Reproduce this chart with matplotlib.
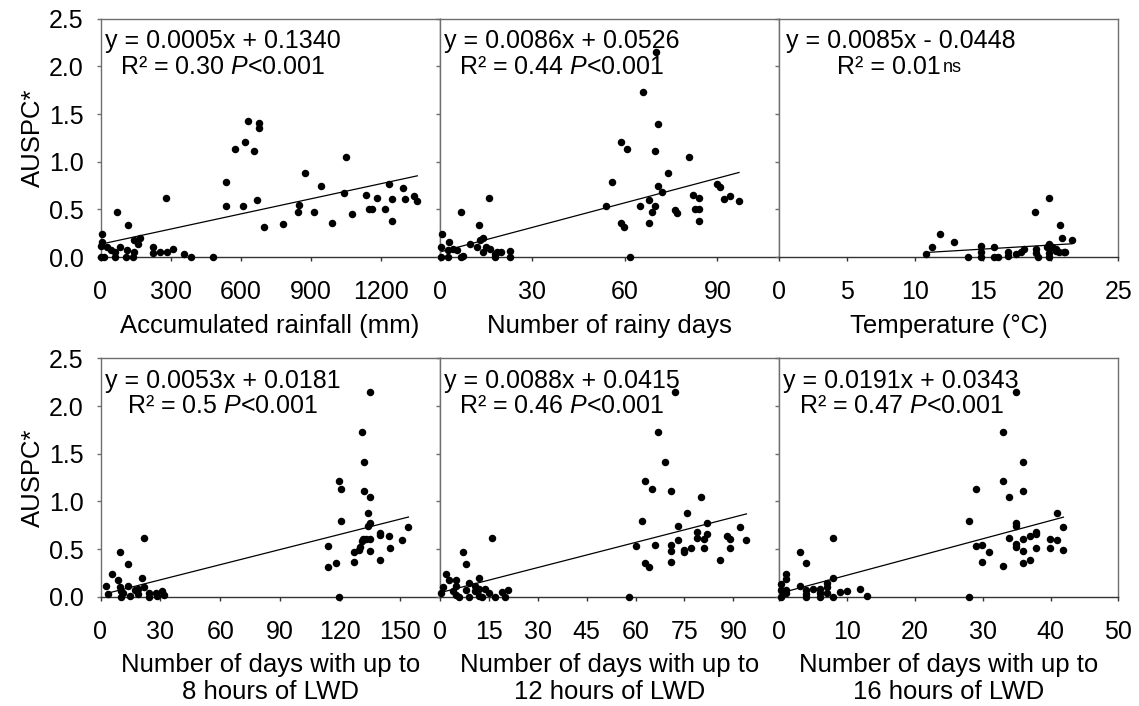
import numpy as np
import matplotlib
matplotlib.use('Agg')
import matplotlib.pyplot as plt

plt.rcParams['font.family'] = ['Liberation Sans', 'DejaVu Sans']
plt.rcParams['mathtext.fontset'] = 'custom'
plt.rcParams['mathtext.rm'] = 'Liberation Sans'
plt.rcParams['mathtext.it'] = 'Liberation Sans:italic'

# ---------------- data ----------------
rain_x = [631, 677, 676, 573, 617, 657, 1048, 535, 874, 942, 1041, 669, 535, 609, 279,
          698, 779, 848, 845, 914, 989, 1074, 1133, 1149, 1160, 1182, 1214, 1234, 1244,
          1246, 1291, 1303, 1340, 1354,
          71, 116, 6, 6, 4, 145, 159, 170, 28, 45, 60, 85, 112, 145, 223, 223, 255, 284,
          309, 355, 386, 481, 4, 17, 62, 109, 138]
rain_y = [1.43, 1.41, 1.35, 1.13, 1.21, 1.11, 1.05, 0.79, 0.88, 0.74, 0.675, 0.60, 0.53, 0.54, 0.62,
          0.31, 0.35, 0.546, 0.476, 0.476, 0.357, 0.455, 0.648, 0.507, 0.507, 0.616, 0.507, 0.767, 0.378,
          0.606, 0.728, 0.606, 0.64, 0.588,
          0.47, 0.34, 0.24, 0.16, 0.115, 0.18, 0.137, 0.20, 0.10, 0.07, 0.055, 0.10, 0.07, 0.055, 0.107, 0.044,
          0.05, 0.05, 0.08, 0.03, 0.0, 0.0, 0.0, 0.0, 0.0, 0.0, 0.0]

rainy_x = [70.0, 65.9, 70.8, 58.8, 60.8, 69.7, 80.9, 73.9, 55.8, 70.8, 71.9, 89.8, 90.9, 82.0,
           84.0, 92.0, 94.0, 97.0, 53.9, 65.0, 67.8, 69.7, 68.8, 76.2, 77.0, 82.8, 84.0, 84.0,
           67.8, 58.7, 59.8, 61.8,
           15.9, 6.9, 12.8, 0.8, 2.9, 13.9, 13.0, 9.8, 11.9, 15.0, 16.2, 13.9, 18.4, 19.8,
           22.9, 22.9, 18.0, 0.4, 2.7, 4.3, 5.7, 7.0, 7.5, 0.4, 2.7, 18.0]
rainy_y = [2.15, 1.73, 1.40, 1.21, 1.13, 1.11, 1.05, 0.88, 0.79, 0.74, 0.68, 0.77, 0.73, 0.65,
           0.616, 0.606, 0.637, 0.588, 0.53, 0.54, 0.594, 0.54, 0.476, 0.494, 0.459, 0.507, 0.507, 0.378,
           0.357, 0.354, 0.31, 0.0,
           0.616, 0.47, 0.34, 0.24, 0.16, 0.20, 0.18, 0.14, 0.10, 0.107, 0.08, 0.055, 0.055, 0.05,
           0.065, 0.0, 0.0, 0.107, 0.07, 0.08, 0.07, 0.0, 0.01, 0.0, 0.0, 0.03]

temp_x = [19.86, 18.85, 20.7, 11.87, 12.88, 11.25, 20.87, 21.56, 19.86, 20.1, 20.4, 20.6, 21.07,
          10.86, 13.9, 14.87, 14.87, 14.87, 15.86, 15.86, 16.1, 16.84, 16.84, 17.45, 17.8, 18.05,
          18.92, 18.92, 19.05, 19.74, 19.86, 19.86, 20.1, 20.4, 21.0]
temp_y = [0.616, 0.47, 0.34, 0.24, 0.16, 0.107, 0.20, 0.18, 0.137, 0.10, 0.08, 0.055, 0.05,
          0.03, 0.0, 0.115, 0.055, 0.0, 0.10, 0.0, 0.0, 0.05, 0.01, 0.03, 0.055, 0.08,
          0.08, 0.044, 0.0, 0.10, 0.044, 0.0, 0.10, 0.065, 0.055]

lwd8_x = [135.2, 131.2, 132.2, 119.3, 120.3, 132.2, 135.2, 134.2, 120.3, 135.2, 134.2, 154.3,
          140.2, 140.2, 144.4, 151.3, 131.7, 133.2, 135.2, 131.2, 130.2, 129.5, 127.1, 135.2,
          145.2, 114.2, 118.1, 114.2, 127.1, 140.2, 119.3,
          21.9, 9.7, 13.7, 5.7, 20.9, 8.7, 2.9, 13.7, 18.9, 21.9, 9.6, 3.9, 10.2, 11.2, 17.2,
          18.9, 24.3, 27.6, 31.0, 31.8, 10.1, 15.0, 28.5, 24.3]
lwd8_y = [2.15, 1.73, 1.41, 1.21, 1.13, 1.11, 1.05, 0.88, 0.79, 0.77, 0.74, 0.73,
          0.67, 0.65, 0.64, 0.594, 0.61, 0.61, 0.61, 0.58, 0.524, 0.495, 0.465, 0.48,
          0.51, 0.53, 0.353, 0.31, 0.36, 0.38, 0.0,
          0.62, 0.47, 0.34, 0.24, 0.20, 0.18, 0.11, 0.11, 0.08, 0.10, 0.10, 0.03, 0.06, 0.035, 0.07,
          0.03, 0.035, 0.035, 0.06, 0.017, 0.0, 0.007, 0.007, 0.0]

lwd12_x = [72.1, 67.0, 69.0, 63.0, 65.0, 71.0, 80.0, 75.9, 62.0, 81.9, 73.0, 92.0, 78.9, 81.9,
           87.9, 78.9, 89.0, 81.0, 73.0, 94.0, 60.0, 66.0, 71.0, 71.0, 75.0, 75.0, 77.0, 81.0,
           89.0, 86.0, 63.0, 64.0, 71.0, 58.0,
           16.0, 7.0, 8.1, 2.05, 12.1, 2.9, 5.1, 9.1, 1.0, 5.1, 10.9, 12.1, 14.0, 21.0, 4.1,
           8.1, 10.9, 15.0, 19.0, 5.1, 6.0, 9.1, 12.1, 13.0, 17.0, 20.0, 0.4]
lwd12_y = [2.15, 1.73, 1.41, 1.21, 1.13, 1.11, 1.05, 0.88, 0.79, 0.77, 0.74, 0.73, 0.68, 0.656,
           0.64, 0.62, 0.61, 0.61, 0.60, 0.594, 0.53, 0.54, 0.54, 0.48, 0.465, 0.49, 0.51, 0.51,
           0.51, 0.38, 0.353, 0.31, 0.36, 0.0,
           0.62, 0.47, 0.34, 0.24, 0.20, 0.17, 0.18, 0.14, 0.10, 0.11, 0.11, 0.08, 0.08, 0.07, 0.06,
           0.07, 0.06, 0.035, 0.05, 0.017, 0.0, 0.0, 0.007, 0.0, 0.0, 0.0, 0.035]

lwd16_x = [34.95, 33.0, 35.9, 33.0, 29.0, 35.9, 33.9, 40.9, 28.0, 34.95, 34.95, 41.9, 37.9,
           37.9, 36.95, 33.9, 35.9, 39.9, 40.9, 29.0, 29.96, 34.95, 34.95, 35.9, 37.9, 39.9,
           41.9, 30.9, 29.96, 33.0, 35.9, 36.95, 28.0,
           8.0, 3.04, 4.0, 1.09, 1.05, 8.0, 7.06, 3.04, 7.06, 0.3, 0.3, 1.09, 1.09, 4.0, 5.0,
           6.08, 6.08, 7.06, 9.0, 10.0, 11.95, 4.0, 4.0, 6.0, 8.0, 13.0, 0.3]
lwd16_y = [2.15, 1.73, 1.41, 1.21, 1.13, 1.11, 1.05, 0.88, 0.79, 0.77, 0.74, 0.73, 0.68,
           0.66, 0.64, 0.62, 0.61, 0.61, 0.594, 0.535, 0.54, 0.55, 0.52, 0.48, 0.51, 0.51,
           0.485, 0.465, 0.36, 0.32, 0.353, 0.38, 0.0,
           0.62, 0.47, 0.35, 0.24, 0.19, 0.20, 0.14, 0.11, 0.10, 0.13, 0.07, 0.07, 0.035, 0.07, 0.08,
           0.077, 0.035, 0.035, 0.05, 0.055, 0.077, 0.03, 0.0, 0.0, 0.0, 0.007, 0.0]

xs_data = [rain_x, rainy_x, temp_x, lwd8_x, lwd12_x, lwd16_x]
ys_data = [rain_y, rainy_y, temp_y, lwd8_y, lwd12_y, lwd16_y]

slopes = [0.00053, 0.0086, 0.0085, 0.0053, 0.0088, 0.0191]
intercepts = [0.134, 0.0526, -0.0448, 0.0181, 0.0415, 0.0343]

eq_line1 = ["y = 0.0005x + 0.1340", "y = 0.0086x + 0.0526", "y = 0.0085x - 0.0448",
            "y = 0.0053x + 0.0181", "y = 0.0088x + 0.0415", "y = 0.0191x + 0.0343"]
eq_line2 = ["R² = 0.30 $P$<0.001", "R² = 0.44 $P$<0.001", "R² = 0.01",
            "R² = 0.5 $P$<0.001", "R² = 0.46 $P$<0.001", "R² = 0.47 $P$<0.001"]
eq_suffix = ["", "", "ns", "", "", ""]

x_labels = ["Accumulated rainfall (mm)", "Number of rainy days", "Temperature (°C)",
            "Number of days with up to\n8 hours of LWD",
            "Number of days with up to\n12 hours of LWD",
            "Number of days with up to\n16 hours of LWD"]
x_max = [1450, 110, 25, 170, 104, 50]
x_ticks = [[0, 300, 600, 900, 1200], [0, 30, 60, 90], [0, 5, 10, 15, 20, 25],
           [0, 30, 60, 90, 120, 150], [0, 15, 30, 45, 60, 75, 90], [0, 10, 20, 30, 40, 50]]
y_ticks = [0.0, 0.5, 1.0, 1.5, 2.0, 2.5]
y_label = "AUSPC*"

# ---------------- figure ----------------
FW, FH = 1139, 706
fig = plt.figure(figsize=(FW / 100, FH / 100), dpi=100)
left0 = 100.5
pw = 339.3
ph = 238.3
bottoms = [257.0, 596.7]

frame_col = '#6e6e6e'
for i in range(6):
    r, c = divmod(i, 3)
    ax = fig.add_axes([(left0 + c * pw) / FW, (FH - bottoms[r]) / FH, pw / FW, ph / FH])
    ax.set_xlim(0, x_max[i])
    ax.set_ylim(0, 2.5)
    ax.set_xticks(x_ticks[i])
    ax.set_yticks(y_ticks)
    ax.set_yticklabels([f"{v:.1f}" for v in y_ticks])
    for s in ['top', 'right', 'left']:
        ax.spines[s].set_color(frame_col)
        ax.spines[s].set_linewidth(1.0)
    ax.spines['bottom'].set_color('#333333')
    ax.spines['bottom'].set_linewidth(1.0)
    ax.tick_params(axis='x', direction='out', length=3, width=1, color='#333333',
                   labelsize=18, pad=13.5)
    ax.tick_params(axis='y', direction='out', length=3, width=1, color=frame_col,
                   labelsize=18, pad=9, labelleft=(c == 0))
    if c == 0:
        ax.set_ylabel(y_label, fontsize=18.5, labelpad=3)
    ax.set_xlabel(x_labels[i], fontsize=18.5, labelpad=7, linespacing=1.15)

    x = np.array(xs_data[i], dtype=float)
    y = np.array(ys_data[i], dtype=float)
    ax.plot(x, y, 'o', color='black', ms=5.4, mew=0, clip_on=False, zorder=3)
    lx = np.array([x.min(), x.max()])
    ax.plot(lx, slopes[i] * lx + intercepts[i], color='black', lw=0.9, zorder=2)

    ax.text(0.36, 0.875, eq_line1[i], transform=ax.transAxes, ha='center',
            va='baseline', fontsize=18)
    xc2 = 0.325 if eq_suffix[i] else 0.36
    t2 = ax.text(xc2, 0.77, eq_line2[i], transform=ax.transAxes, ha='center',
                 va='baseline', fontsize=18)
    if eq_suffix[i]:
        ax.annotate(eq_suffix[i], xy=(1, 0), xycoords=t2, ha='left', va='bottom',
                    fontsize=13, xytext=(1, 2), textcoords='offset points')

fig.savefig('out.png', dpi=100, facecolor='white')
